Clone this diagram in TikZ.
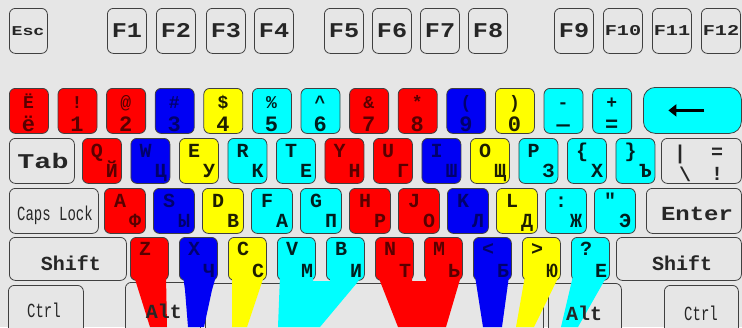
\documentclass[tikz,border=0pt]{standalone}
\usepackage{fontspec}
\newfontfamily\keyfont{Liberation Mono}
\newfontfamily\midfont{Liberation Mono}[FakeStretch=1.2]
\newfontfamily\widefont{Liberation Mono}[FakeStretch=1.35]
\newfontfamily\narrowfont{Liberation Mono}[FakeStretch=0.7]
\usetikzlibrary{arrows.meta}

\definecolor{kbg}{HTML}{E6E6E6}
\definecolor{kred}{HTML}{FF0000}
\definecolor{kblue}{HTML}{0000F4}
\definecolor{kyellow}{HTML}{FFFF00}
\definecolor{kcyan}{HTML}{00FFFF}
\colorlet{kredt}{kred!35!black}
\colorlet{kbluet}{kblue!45!black}
\colorlet{kyellowt}{kyellow!12!black}
\colorlet{kcyant}{kcyan!12!black}

\tikzset{
  key/.style={draw=black!75, line width=0.8pt, rounded corners=6pt, anchor=north west,
    inner sep=0pt, minimum width=39pt, minimum height=45pt, fill=kbg},
  ckey/.style={key, fill=k#1},
  lab/.style={inner sep=0pt, anchor=base, font=\keyfont\bfseries\fontsize{20}{22}\selectfont},
  sym/.style={font=\keyfont\bfseries\fontsize{18}{20}\selectfont},
  dig/.style={font=\keyfont\bfseries\fontsize{22}{24}\selectfont},
  clab/.style={lab, text=k#1t},
  glab/.style={lab, text=black!85},
  flab/.style={glab, font=\midfont\bfseries\fontsize{21}{23}\selectfont},
  wlab/.style={glab, font=\widefont\bfseries\fontsize{15}{17}\selectfont},
  nlab/.style={glab, font=\narrowfont\fontsize{20}{22}\selectfont},
}

\begin{document}
\begin{tikzpicture}[x=1pt,y=-1pt]
\useasboundingbox (0,0) rectangle (742,327);
\fill[kbg] (0,0) rectangle (742,327);
\clip (0,0) rectangle (742,327);

% function keys
\node[key, minimum width=38pt] (esc) at (9,8) {};
\node[wlab, font=\widefont\bfseries\fontsize{13.5}{15}\selectfont] (esct) at (28,35) {Esc};
\foreach \x/\t [count=\i] in {107/F1,156/F2,206/F3,254/F4,324/F5,372/F6,420/F7,468/F8,554/F9}{
  \node[key] (f\i) at (\x,8) {};
  \node[flab] (ft\i) at ({\x+20},37) {\t};
}
\foreach \x/\t [count=\i] in {603/F10,652/F11,701/F12}{
  \node[key] (g\i) at (\x,8) {};
  \node[wlab] (gt\i) at ({\x+20},35) {\t};
}

% number row
\foreach \x/\c/\a/\b [count=\i] in {9/red/Ё/ё, 57.6/red/!/1, 106.2/red/@/2, 154.8/blue/\#/3,
    203.4/yellow/\$/4, 252/cyan/\%/5, 300.6/cyan/\textasciicircum/6, 349.2/red/\&/7,
    397.8/red/*/8, 446.4/blue/(/9, 495/yellow/)/0, 543.6/cyan/-/—, 592.2/cyan/+/=}{
  \node[ckey=\c] (n\i) at (\x,88) {};
  \node[clab=\c, sym] (ns\i) at ({\x+19.5},108.5) {\a};
  \node[clab=\c, dig] (nd\i) at ({\x+19.5},131) {\b};
}
\node[ckey=cyan, minimum width=98pt, minimum height=46pt, rounded corners=12pt] (bksp) at (643,87) {};
\draw[line width=3.5pt, -{Triangle[length=8pt,width=12pt]}] ([xshift=12pt]bksp.center) -- ([xshift=-24pt]bksp.center);

% upper letter row
\node[key, minimum width=65pt] (tab) at (9,138) {};
\node[glab, font=\widefont\bfseries\fontsize{21}{23}\selectfont] (tabt) at (43,168) {Tab};
\foreach \x/\c/\a/\b [count=\i] in {82/red/Q/Й, 130.5/blue/W/Ц, 179/yellow/E/У, 227.5/cyan/R/К,
    276/cyan/T/Е, 324.5/red/Y/Н, 373/red/U/Г, 421.5/blue/I/Ш, 470/yellow/O/Щ,
    518.5/cyan/P/З, 567/cyan/\{/Х, 615.5/cyan/\}/Ъ}{
  \node[ckey=\c] (t\i) at (\x,138) {};
  \node[clab=\c] (tl\i) at ({\x+15},157) {\a};
  \node[clab=\c] (tr\i) at ({\x+30},177) {\b};
}
\node[key, minimum width=80pt] (bsl) at (661,138) {};
\node[glab, anchor=center] (bsla) at (680,154) {|};
\node[glab, anchor=center] (bslb) at (685,174) {\textbackslash};
\node[glab, anchor=center] (bslc) at (717,153) {=};
\node[glab, anchor=center] (bsld) at (717,174) {!};

% home row
\node[key, minimum width=89pt] (caps) at (9,188) {};
\node[nlab] (capst) at (55,220) {Caps Lock};
\foreach \x/\c/\a/\b [count=\i] in {104/red/A/Ф, 153/blue/S/Ы, 202/yellow/D/В, 251/cyan/F/А,
    300/cyan/G/П, 349/red/H/Р, 398/red/J/О, 447/blue/K/Л, 496/yellow/L/Д,
    545/cyan/:/Ж, 594/cyan/"/Э}{
  \node[ckey=\c, minimum width=41pt] (h\i) at (\x,188) {};
  \node[clab=\c] (hl\i) at ({\x+16},207) {\a};
  \node[clab=\c] (hr\i) at ({\x+31},227) {\b};
}
\node[key, minimum width=95pt] (enter) at (646,188) {};
\node[glab, font=\midfont\bfseries\fontsize{20}{22}\selectfont] (entert) at (697,220) {Enter};

% lower letter row
\node[key, minimum width=117pt, minimum height=43pt] (shl) at (9,237) {};
\node[glab] (shlt) at (71,270) {Shift};
\foreach \x/\c [count=\i] in {130/red, 179/blue, 228/yellow, 277/cyan, 326/cyan,
    375/red, 424/red, 473/blue, 522/yellow, 571/cyan}{
  \node[ckey=\c, minimum width=38pt, minimum height=43pt] (s\i) at (\x,237) {};
}
\node[key, minimum width=125pt, minimum height=43pt] (shr) at (616,237) {};
\node[glab] (shrt) at (682,270) {Shift};

% bottom row
\node[key, minimum width=75pt, minimum height=60pt] (ctl) at (8,285) {};
\node[key, minimum width=75pt, minimum height=60pt] (altl) at (125,282) {};
\node[key, minimum width=338pt, minimum height=60pt, rounded corners=10pt] (space) at (205,283) {};
\node[key, minimum width=73pt, minimum height=60pt] (altr) at (548,283) {};
\node[key, minimum width=74pt, minimum height=60pt] (ctr) at (664,285) {};

% fingers
\fill[kred] (134,276) -- (166,276) -- (167,327) -- (150,327) -- cycle;
\fill[kblue] (183,276) -- (216,276) -- (212,290) -- (204,327) -- (188,327) -- (185,290) -- cycle;
\fill[kyellow] (232,276) -- (264,276) -- (247,327) -- (232,327) -- cycle;
\fill[kcyan] (280,276) -- (313,276) -- (313,281) -- (330,281) -- (330,276) -- (362,276)
  -- (356,284) -- (320,327) -- (278,327) -- cycle;
\fill[kred] (378,276) -- (412,276) -- (412,281) -- (426,281) -- (426,276) -- (461,276)
  -- (446,327) -- (398,327) -- cycle;
\fill[kblue] (475,276) -- (509,276) -- (502,327) -- (483,327) -- cycle;
\fill[kyellow] (525,276) -- (559,276) -- (534,327) -- (516,327) -- cycle;
\fill[kcyan] (573,276) -- (607,276) -- (578,327) -- (561,327) -- cycle;

\foreach \x/\c/\a/\b [count=\i] in {130/red/Z/{}, 179/blue/X/Ч, 228/yellow/C/С, 277/cyan/V/М,
    326/cyan/B/И, 375/red/N/Т, 424/red/M/Ь, 473/blue/</Б, 522/yellow/>/Ю, 571/cyan/?/Е}{
  \node[clab=\c] (sl\i) at ({\x+15},255) {\a};
  \node[clab=\c] (sr\i) at ({\x+30},277) {\b};
}
\node[nlab] (ctlt) at (44,317) {Ctrl};
\node[glab] (altlt) at (164,318) {Alt};
\node[glab] (altrt) at (584,320) {Alt};
\node[nlab] (ctrt) at (701,320) {Ctrl};
\end{tikzpicture}
\end{document}
